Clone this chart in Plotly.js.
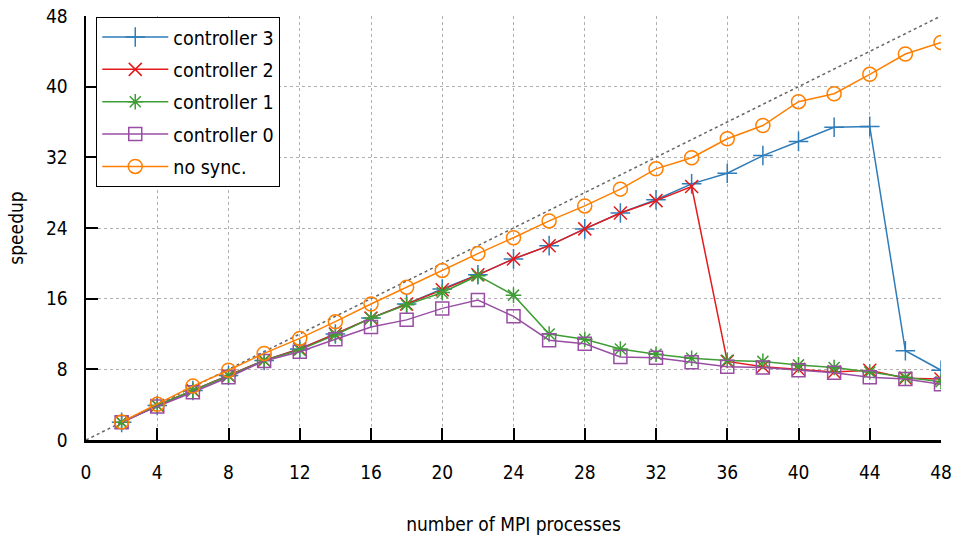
<!DOCTYPE html>
<html><head><meta charset="utf-8">
<script src="https://cdn.plot.ly/plotly-3.0.1.min.js"></script>
<style>body{margin:0;background:#fff}#chart{width:956px;height:538px}</style>
</head><body><div id="chart"></div>
<script>
const procs = [2,4,6,8,10,12,14,16,18,20,22,24,26,28,30,32,34,36,38,40,42,44,46,48];
const controller3 = [2.0,3.9,5.6,7.3,9.0,10.3,12.0,13.8,15.4,17.1,18.7,20.5,22.0,23.9,25.7,27.2,29.0,30.2,32.2,33.8,35.4,35.5,10.1,7.9];
const controller2 = [2.0,3.9,5.6,7.3,9.0,10.3,12.0,13.8,15.4,17.0,18.7,20.5,22.0,23.9,25.7,27.1,28.7,8.9,8.3,8.0,7.7,7.9,7.0,6.9];
const controller1 = [2.0,3.9,5.6,7.25,9.0,10.2,11.9,13.8,15.3,16.7,18.6,16.4,12.0,11.4,10.3,9.7,9.25,9.0,8.9,8.5,8.2,7.7,7.1,6.6];
const controller0 = [2.0,3.8,5.4,7.1,8.95,10.0,11.4,12.8,13.6,14.9,15.85,14.0,11.3,10.9,9.4,9.3,8.8,8.3,8.2,7.9,7.6,7.1,6.9,6.3];
const noSync = [2.05,4.05,6.1,7.9,9.8,11.5,13.4,15.4,17.3,19.2,21.1,22.9,24.8,26.5,28.4,30.7,31.95,34.1,35.6,38.3,39.2,41.4,43.7,45.0];
const idealX = [0,48];
const idealY = [0,48];
const tickVals = [0,4,8,12,16,20,24,28,32,36,40,44,48];
const yTickVals = [0,8,16,24,32,40,48];

const FONT = '"Liberation Sans Narrow", "DejaVu Sans Condensed", sans-serif';
function series(name, y, color, symbol, size, group){
  return {x: procs, y: y, name: name, type:'scatter', mode:'lines+markers',
    line:{color:color, width:1.5},
    marker:{symbol:symbol, size:size, color:color, line:{color:color, width:1.5}},
    legendgroup: group};
}
const traces = [
  {x: idealX, y: idealY, type:'scatter', mode:'lines', showlegend:false,
   line:{color:'#666', width:1.5, dash:'dot'}, hoverinfo:'skip'},
  series('controller 3', controller3, '#2e7cb9', 'cross-thin-open', 14, 'g1'),
  series('controller 2', controller2, '#e41a1c', 'x-thin-open', 13, 'g2'),
  series('controller 1', controller1, '#3e9d35', 'asterisk-open', 13, 'g3'),
  series('controller 0', controller0, '#984ea3', 'square-open', 13, 'g4'),
  series('no sync.', noSync, '#ff7f00', 'circle-open', 14, 'g5')
];
const layout = {
  width:956, height:538,
  margin:{l:86, r:15, t:16, b:98},
  paper_bgcolor:'#fff', plot_bgcolor:'#fff',
  font:{family:FONT, size:19, color:'#000'},
  showlegend:true,
  legend:{x:0.012, y:0.998, xanchor:'left', yanchor:'top',
    bordercolor:'#000', borderwidth:1, bgcolor:'#fff',
    font:{family:FONT, size:19.5, color:'#000'},
    traceorder:'grouped', tracegroupgap:4, itemwidth:66},
  xaxis:{range:[0,48], tickvals:tickVals, ticks:'inside', ticklen:12, tickwidth:2, tickcolor:'#000',
    showline:true, linewidth:2.5, linecolor:'#000', zeroline:false,
    showgrid:true, gridcolor:'#b0b0b0', gridwidth:1, griddash:'dot',
    ticklabelstandoff:14,
    title:{text:'number of MPI processes', font:{family:FONT, size:19}, standoff:36}},
  yaxis:{range:[0,48], tickvals:yTickVals, ticks:'inside', ticklen:12, tickwidth:2, tickcolor:'#000',
    showline:true, linewidth:2.5, linecolor:'#000', zeroline:false,
    showgrid:true, gridcolor:'#b0b0b0', gridwidth:1, griddash:'dot',
    ticklabelstandoff:12,
    title:{text:'speedup', font:{family:FONT, size:19}, standoff:18}}
};
Plotly.newPlot('chart', traces, layout, {displayModeBar:false, staticPlot:true});
</script></body></html>
